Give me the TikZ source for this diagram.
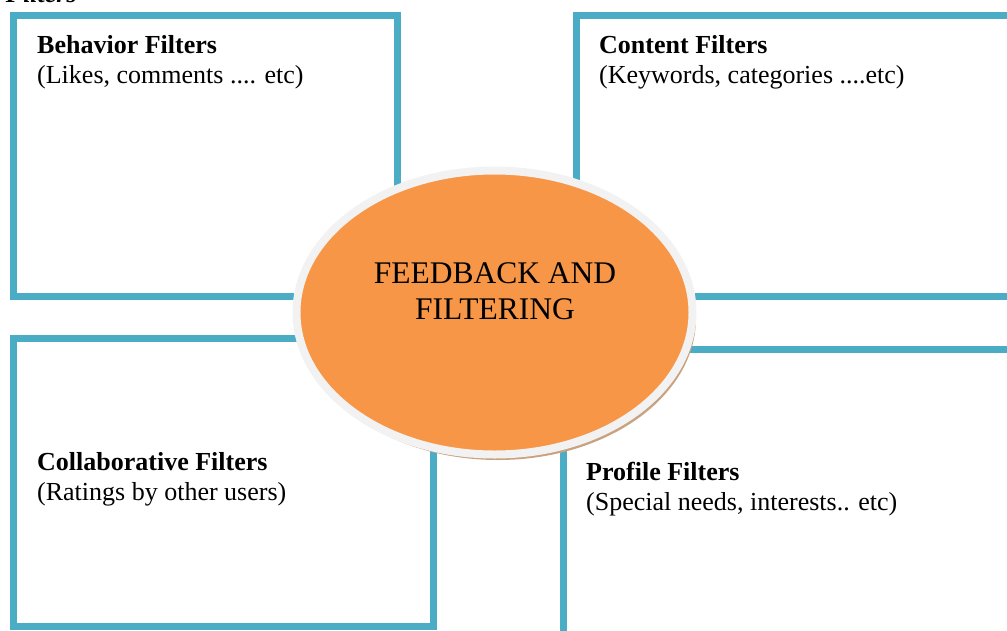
\documentclass[tikz,border=0pt]{standalone}
\usepackage{fontspec}
\setmainfont{Liberation Serif}
\usetikzlibrary{shapes.geometric}
\definecolor{frame}{HTML}{4BACC6}
\definecolor{hubfill}{HTML}{F79646}
\definecolor{rim}{HTML}{F2F2F2}
\definecolor{hubshadow}{HTML}{C9A27F}

\begin{document}
\begin{tikzpicture}[x=1pt, y=-1pt,
  fbox/.style={draw=frame, line width=7pt},
  fnote/.style={anchor=base west, align=left, inner sep=0pt,
    font=\fontsize{26}{29.5}\selectfont},
  hub/.style={ellipse, minimum width=396pt, minimum height=284pt,
    inner sep=0pt, line width=8pt}]
  \useasboundingbox (0,0) rectangle (1007,630);
  \clip (0,0) rectangle (1007,630);
  % caption of the figure, cut at the top edge
  \node[anchor=base west, inner sep=0pt, font=\fontsize{26}{29}\selectfont\bfseries\itshape]
    (caption) at (-8,2) {t Filters};
  % the four filter frames
  \draw[fbox] (13.5,15.5) rectangle (397,296.5);
  \draw[fbox] (576.5,15.5) rectangle (1020,296.5);
  \draw[fbox] (13.5,338.5) rectangle (433,626.5);
  \draw[fbox] (563.5,349) rectangle (1020,640);
  % base anchor sits on the last line
  \node[fnote] (behavior) at (37,83)
    {\textbf{Behavior Filters}\\(Likes, comments .... etc)};
  \node[fnote] (content) at (599,83)
    {\textbf{Content Filters}\\(Keywords, categories ....etc)};
  \node[fnote] (collab) at (37,500)
    {\textbf{Collaborative Filters}\\(Ratings by other users)};
  \node[fnote] (profile) at (586,510)
    {\textbf{Profile Filters}\\(Special needs, interests.. etc)};
  % central ellipse with rim and shadow
  \node[hub, fill=hubshadow] (shadow) at (498,318) {};
  \node[hub, fill=hubfill, draw=rim] (hub) at (494.5,312.5) {};
  \node[align=center, inner sep=0pt, anchor=base,
    font=\fontsize{31.5}{36}\selectfont] (hubtext) at (495,319)
    {FEEDBACK AND\\FILTERING};
\end{tikzpicture}
\end{document}
